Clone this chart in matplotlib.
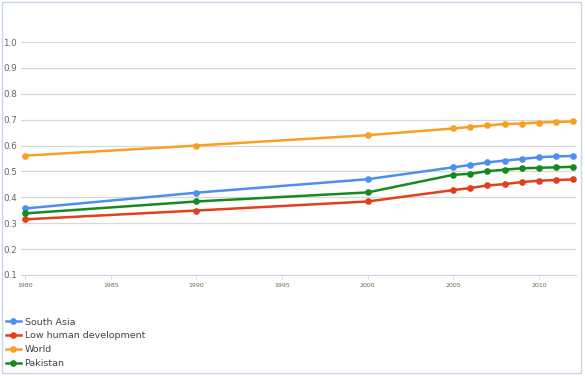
import matplotlib
matplotlib.use("Agg")
import matplotlib.pyplot as plt
from matplotlib.patches import Rectangle

# data
years = [1980, 1990, 2000, 2005, 2006, 2007, 2008, 2009, 2010, 2011, 2012]
south_asia = [0.357, 0.418, 0.470, 0.516, 0.525, 0.535, 0.542, 0.548, 0.555, 0.558, 0.560]
low_hd = [0.315, 0.349, 0.384, 0.428, 0.436, 0.446, 0.451, 0.459, 0.464, 0.467, 0.469]
world = [0.561, 0.600, 0.640, 0.666, 0.672, 0.678, 0.683, 0.685, 0.689, 0.691, 0.693]
pakistan = [0.338, 0.384, 0.419, 0.487, 0.491, 0.501, 0.507, 0.512, 0.514, 0.516, 0.518]

names = ["South Asia", "Low human development", "World", "Pakistan"]
colors = ["#4d8ef0", "#e2401c", "#f9a023", "#178a1f"]
series = [south_asia, low_hd, world, pakistan]

yticks = [0.1, 0.2, 0.3, 0.4, 0.5, 0.6, 0.7, 0.8, 0.9, 1.0]
xticks = [1980, 1985, 1990, 1995, 2000, 2005, 2010]

fig = plt.figure(figsize=(5.85, 3.76), dpi=100)
fig.patch.set_facecolor("white")
# thin frame round the whole picture
fig.patches.append(Rectangle((0.004, 0.008), 0.99, 0.988, transform=fig.transFigure,
                             fill=False, edgecolor="#c9d6e8", linewidth=1.0))

ax = fig.add_axes([21 / 585, 1 - 275 / 376, 555 / 585, 233 / 376])
ax.set_xlim(1979.75, 2012.17)
ax.set_ylim(0.1, 1.0)

lines = []
for name, c, vals in zip(names, colors, series):
    ln, = ax.plot(years, vals, color=c, linewidth=1.8, marker="o", markersize=4.8,
                  markeredgewidth=0, label=name, zorder=3, clip_on=False)
    lines.append(ln)

ax.set_yticks(yticks)
ax.set_yticklabels([f"{v:.1f}" for v in yticks], fontsize=6.3, color="#666666")
ax.set_xticks(xticks)
ax.set_xticklabels([str(y) for y in xticks], fontsize=4.5, color="#666666")
ax.tick_params(axis="y", length=0, pad=3)
ax.tick_params(axis="x", length=3, width=0.6, color="#ccd6eb", pad=3)

ax.grid(axis="y", color="#d8d8d8", linewidth=0.9)
ax.set_axisbelow(True)
for side in ["top", "right", "left"]:
    ax.spines[side].set_visible(False)
ax.spines["bottom"].set_color("#ccd6eb")
ax.spines["bottom"].set_linewidth(0.9)

leg = fig.legend(handles=lines, loc="upper left", bbox_to_anchor=(0.0, 1 - 312 / 376),
                 frameon=False, fontsize=6.8, handlelength=1.6, handletextpad=0.4,
                 labelspacing=0.5, borderaxespad=0.2, markerscale=1.0)
for t in leg.get_texts():
    t.set_color("#444444")

fig.savefig("out.png", dpi=100)
